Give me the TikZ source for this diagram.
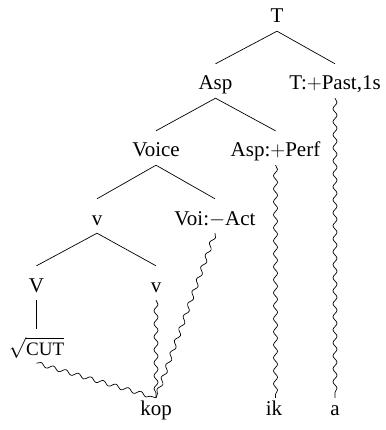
\documentclass[tikz,border=0pt]{standalone}
\usepackage{fontspec}
\setmainfont{Liberation Serif}
\usetikzlibrary{decorations.pathmorphing}
\begin{document}
\begin{tikzpicture}[x=1pt,y=-1pt,
  lbl/.style={anchor=base, inner xsep=0pt, inner ysep=4pt,
              text height=22pt, text depth=4pt,
              font=\fontsize{21}{25}\selectfont},
  leaf/.style={lbl, text height=13pt},
  branch/.style={line width=0.7pt},
  wavy/.style={line width=0.7pt, decorate,
               decoration={snake, amplitude=2pt, segment length=13pt}}]
\useasboundingbox (0,0) rectangle (385,430);

% tree nodes
\node[lbl] (T)     at (277,23)   {T};
\node[lbl] (Asp)   at (215.5,90) {Asp};
\node[lbl] (Tf)    at (335,90)   {T:$+$Past,1s};
\node[lbl] (Voice) at (156,157)  {Voice};
\node[lbl] (Aspf)  at (275.5,157){Asp:$+$Perf};
\node[lbl] (v)     at (97,225)   {v};
\node[lbl] (Voif)  at (215,225)  {Voi:$-$Act};
\node[lbl] (V)     at (36.5,292) {V};
\node[lbl] (vl)    at (156,292)  {v};
\node[lbl] (cut)   at (36.5,355) {$\sqrt{\mbox{\fontsize{19}{21}\selectfont CUT}}$};

% exponents
\node[leaf] (kop) at (156,415) {kop};
\node[leaf] (ik)  at (274,415) {ik};
\node[leaf] (a)   at (335,415) {a};

% branches
\draw[branch] (Asp.north) -- (T.south) -- (Tf.north);
\draw[branch] (Voice.north) -- (Asp.south) -- (Aspf.north);
\draw[branch] (v.north) -- (Voice.south) -- (Voif.north);
\draw[branch] (V.north) -- (v.south) -- (vl.north);
\draw[branch] (V.south) -- (cut.north);

% vocabulary insertion
\draw[wavy] (cut.south) -- (kop.north);
\draw[wavy] (vl.south) -- (kop.north);
\draw[wavy] (Voif.south) -- (kop.north);
\draw[wavy] (Aspf.south) -- (Aspf.south |- ik.north);
\draw[wavy] (Tf.south) -- (a.north);
\end{tikzpicture}
\end{document}
